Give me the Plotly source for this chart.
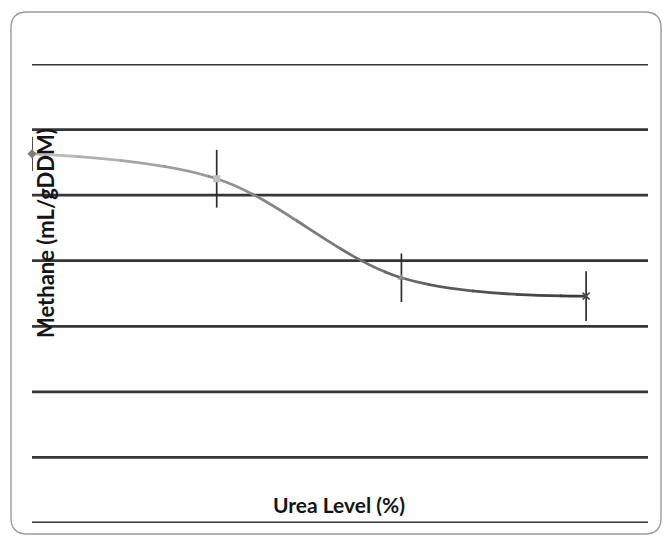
import plotly.graph_objects as go

# ---- data ----
urea_levels = [0, 1, 2, 3]              # category positions (labels hidden in reference)
methane = [56.3, 52.5, 37.4, 34.6]      # Methane (mL/gDDM)
methane_err = [2.6, 4.4, 3.7, 3.8]
grid_values = [0, 10, 20, 30, 40, 50, 60, 70]
marker_symbols = ["diamond", "square", "triangle-up", "x-thin"]
marker_colors = ["#7c7c7c", "#bdbdbd", "#8c8c8c", "#4a4a4a"]

X0, X1 = 0.0, 3.335
Y0, Y1 = 0.0, 70.0

W, H = 663, 536
ML, MR, MT, MB = 32, 15, 64, 13
PW, PH = W - ML - MR, H - MT - MB

fig = go.Figure()
layout = dict(
    width=W, height=H,
    margin=dict(l=ML, r=MR, t=MT, b=MB, pad=0),
    paper_bgcolor="white", plot_bgcolor="rgba(0,0,0,0)",
    showlegend=False,
    yaxis=dict(range=[Y0, Y1], visible=False, anchor="x", fixedrange=True),
)

# gradient line: the same spline drawn in K side-by-side clipped subplots
K = 14
ext = 1.5 / PW
for k in range(K):
    name = "x" if k == 0 else f"x{k + 1}"
    key = "xaxis" if k == 0 else f"xaxis{k + 1}"
    d0 = k / K
    d1 = min(1.0, (k + 1) / K + ext)
    layout[key] = dict(domain=[d0, d1],
                       range=[X0 + (X1 - X0) * d0, X0 + (X1 - X0) * d1],
                       visible=False, anchor="y", fixedrange=True)
    t = min(((k + 0.5) / K) / 0.9, 1.0)
    v = int(round(192 - (192 - 58) * t))
    fig.add_trace(go.Scatter(
        x=urea_levels, y=methane, xaxis=name, yaxis="y",
        mode="lines", line=dict(shape="spline", smoothing=1.0, width=2.8,
                                color=f"rgb({v},{v},{v})"),
        hoverinfo="skip"))

# markers + error bars on a full-width top subplot
mk = f"x{K + 1}"
layout[f"xaxis{K + 1}"] = dict(domain=[0, 1], range=[X0, X1], visible=False,
                               anchor="y", fixedrange=True)
fig.add_trace(go.Scatter(
    x=urea_levels, y=methane, xaxis=mk, yaxis="y", mode="markers",
    cliponaxis=False,
    marker=dict(symbol=marker_symbols, size=7, color=marker_colors,
                line=dict(color=marker_colors, width=[0, 0, 0, 1.6])),
    error_y=dict(type="data", array=methane_err, symmetric=True,
                 color="#2e2e2e", thickness=1.7, width=0),
))

# horizontal grid lines (below the traces)
shapes = []
for g in grid_values:
    shapes.append(dict(type="line", xref="paper", yref="y", x0=0, x1=1,
                       y0=g, y1=g, layer="below",
                       line=dict(color="#363636", width=2.8)))

# rounded chart border
def px(x):
    return (x - ML) / PW

def py(y):
    return (H - MB - y) / PH

L_, R_, T_, B_, r = 11, 661, 12, 534, 16
path = (f"M {px(L_ + r)},{py(T_)} L {px(R_ - r)},{py(T_)} "
        f"Q {px(R_)},{py(T_)} {px(R_)},{py(T_ + r)} "
        f"L {px(R_)},{py(B_ - r)} Q {px(R_)},{py(B_)} {px(R_ - r)},{py(B_)} "
        f"L {px(L_ + r)},{py(B_)} Q {px(L_)},{py(B_)} {px(L_)},{py(B_ - r)} "
        f"L {px(L_)},{py(T_ + r)} Q {px(L_)},{py(T_)} {px(L_ + r)},{py(T_)} Z")
shapes.append(dict(type="path", xref="paper", yref="paper", path=path,
                   layer="below", line=dict(color="#9c9c9c", width=1.4)))
layout["shapes"] = shapes

fam = "Lato, Open Sans, sans-serif"
layout["annotations"] = [
    dict(text="<b>Urea Level (%)</b>", xref="paper", yref="paper",
         x=px(339), y=py(504), showarrow=False,
         font=dict(family=fam, size=21, color="#151515"),
         xanchor="center", yanchor="middle"),
    dict(text="<b>Methane (mL/gDDM)</b>", xref="paper", yref="paper",
         x=px(46), y=py(233), showarrow=False,
         font=dict(family=fam, size=22, color="#151515"), textangle=-90,
         xanchor="center", yanchor="middle"),
]

fig.update_layout(**layout)
fig.write_html("out.html",
               config={"displayModeBar": False, "staticPlot": True},
               post_script="document.body.style.margin='0';document.body.style.overflow='hidden';")
